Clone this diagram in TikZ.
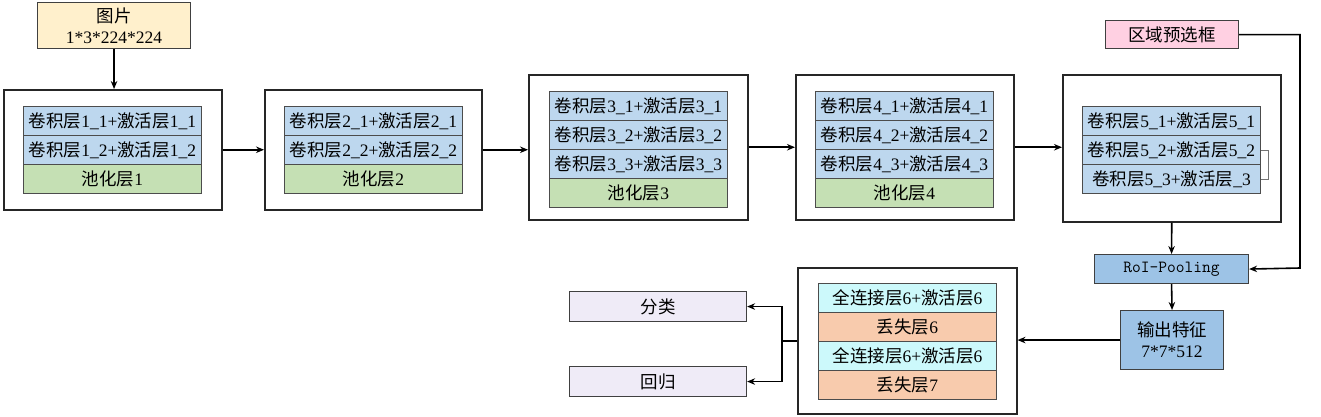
\documentclass[tikz,border=0pt]{standalone}
\usepackage{fontspec}
\setmainfont{Liberation Serif}
\newfontfamily\cjk{Noto Sans CJK SC}
\usetikzlibrary{arrows.meta}
\newcommand\zh[1]{{\cjk #1}}
\definecolor{cyel}{HTML}{FFF0CC}
\definecolor{cpink}{HTML}{FFD0E2}
\definecolor{clav}{HTML}{EFEBF7}
\definecolor{ccyan}{HTML}{CCF9FB}
\definecolor{corange}{HTML}{F8CBAD}
\definecolor{cgreen}{HTML}{C5E0B4}
\definecolor{cblue}{HTML}{BDD7EE}
\definecolor{cdblue}{HTML}{9DC3E6}
\begin{document}
\begin{tikzpicture}[x=1pt,y=-1pt,
  outer/.style={draw=black!85, line width=1.5pt, fill=white, anchor=north west, inner sep=0pt},
  layer/.style={draw=black!70, line width=1pt, inner sep=0pt, minimum width=178pt, minimum height=29pt, anchor=north west, font=\fontsize{17.5}{19}\selectfont},
  conv/.style={layer, fill=cblue},
  pool/.style={layer, fill=cgreen},
  fc/.style={layer, fill=ccyan},
  drop/.style={layer, fill=corange},
  plain/.style={draw=black!75, line width=1.1pt, inner sep=0pt, anchor=north west, font=\fontsize{17.5}{21}\selectfont, align=center},
  arr/.style={-{Stealth[length=8pt,width=6.5pt]}, line width=1.6pt},
  ]
\useasboundingbox (0,0) rectangle (1321,416);

% input
\node[plain, fill=cyel, minimum width=153pt, minimum height=46pt] (img) at (37,2) {\zh{图片}\\1*3*224*224};

% block 1
\node[outer, minimum width=218pt, minimum height=120pt] (B1) at (3,89) {};
\node[conv] (B1a) at (23,106) {\zh{卷积层}1\_1+\zh{激活层}1\_1};
\node[conv] (B1b) at (23,135) {\zh{卷积层}1\_2+\zh{激活层}1\_2};
\node[pool] (B1p) at (23,164) {\zh{池化层}1};

% block 2
\node[outer, minimum width=217pt, minimum height=120pt] (B2) at (264,89) {};
\node[conv] (B2a) at (284,106) {\zh{卷积层}2\_1+\zh{激活层}2\_1};
\node[conv] (B2b) at (284,135) {\zh{卷积层}2\_2+\zh{激活层}2\_2};
\node[pool] (B2p) at (284,164) {\zh{池化层}2};

% block 3
\node[outer, minimum width=219pt, minimum height=145pt] (B3) at (528,74) {};
\node[conv] (B3a) at (549,91) {\zh{卷积层}3\_1+\zh{激活层}3\_1};
\node[conv] (B3b) at (549,120) {\zh{卷积层}3\_2+\zh{激活层}3\_2};
\node[conv] (B3c) at (549,149) {\zh{卷积层}3\_3+\zh{激活层}3\_3};
\node[pool] (B3p) at (549,178) {\zh{池化层}3};

% block 4
\node[outer, minimum width=218pt, minimum height=145pt] (B4) at (795,74) {};
\node[conv] (B4a) at (815,91) {\zh{卷积层}4\_1+\zh{激活层}4\_1};
\node[conv] (B4b) at (815,120) {\zh{卷积层}4\_2+\zh{激活层}4\_2};
\node[conv] (B4c) at (815,149) {\zh{卷积层}4\_3+\zh{激活层}4\_3};
\node[pool] (B4p) at (815,178) {\zh{池化层}4};

% block 5
\node[outer, minimum width=218pt, minimum height=147pt] (B5) at (1062,74) {};
\node[conv] (B5a) at (1082,106) {\zh{卷积层}5\_1+\zh{激活层}5\_1};
\node[conv] (B5b) at (1082,135) {\zh{卷积层}5\_2+\zh{激活层}5\_2};
\node[conv] (B5c) at (1082,164) {\zh{卷积层}5\_3+\zh{激活层}\_3};
\draw[black!55, line width=0.6pt] (B5b.east) -- ++(7,0) |- (B5c.east);

% region proposals
\node[plain, fill=cpink, minimum width=133pt, minimum height=28pt] (rpn) at (1105,20) {\zh{区域预选框}};

% RoI pooling
\node[plain, fill=cdblue, minimum width=154pt, minimum height=29pt, font=\fontsize{17}{20}\ttfamily] (roi) at (1094,254) {RoI-Pooling};

% output features
\node[plain, fill=cdblue, minimum width=103pt, minimum height=59pt] (feat) at (1120,310) {\zh{输出特征}\\7*7*512};

% block 6
\node[outer, minimum width=219pt, minimum height=146pt] (B6) at (797,267) {};
\node[fc] (B6a) at (818,283) {\zh{全连接层}6+\zh{激活层}6};
\node[drop] (B6b) at (818,312) {\zh{丢失层}6};
\node[fc] (B6c) at (818,341) {\zh{全连接层}6+\zh{激活层}6};
\node[drop] (B6d) at (818,370) {\zh{丢失层}7};

% heads
\node[plain, fill=clav, minimum width=177pt, minimum height=30pt] (cls) at (569,291) {\zh{分类}};
\node[plain, fill=clav, minimum width=177pt, minimum height=30pt] (reg) at (569,366) {\zh{回归}};

% connectors
\coordinate (turn) at (1300,268);
\coordinate (split) at (782,340);
\draw[arr] (img.south) -- (img.south |- B1.north);
\draw[arr] (B1.east) -- (B1.east -| B2.west);
\draw[arr] (B2.east) -- (B2.east -| B3.west);
\draw[arr] (B3.east) -- (B4.west);
\draw[arr] (B4.east) -- (B4.east -| B5.west);
\draw[arr] (B5.south) -- (roi.north);
\draw[arr] (rpn.east) -| (turn) -- (roi.east);
\draw[arr] (roi.south) -- (feat.north);
\draw[arr] (feat.west) -- (feat.west -| B6.east);
\draw[arr] (B6.west) -- (split |- B6.west) |- (cls.east);
\draw[arr] (B6.west) -- (split |- B6.west) |- (reg.east);
\end{tikzpicture}
\end{document}
